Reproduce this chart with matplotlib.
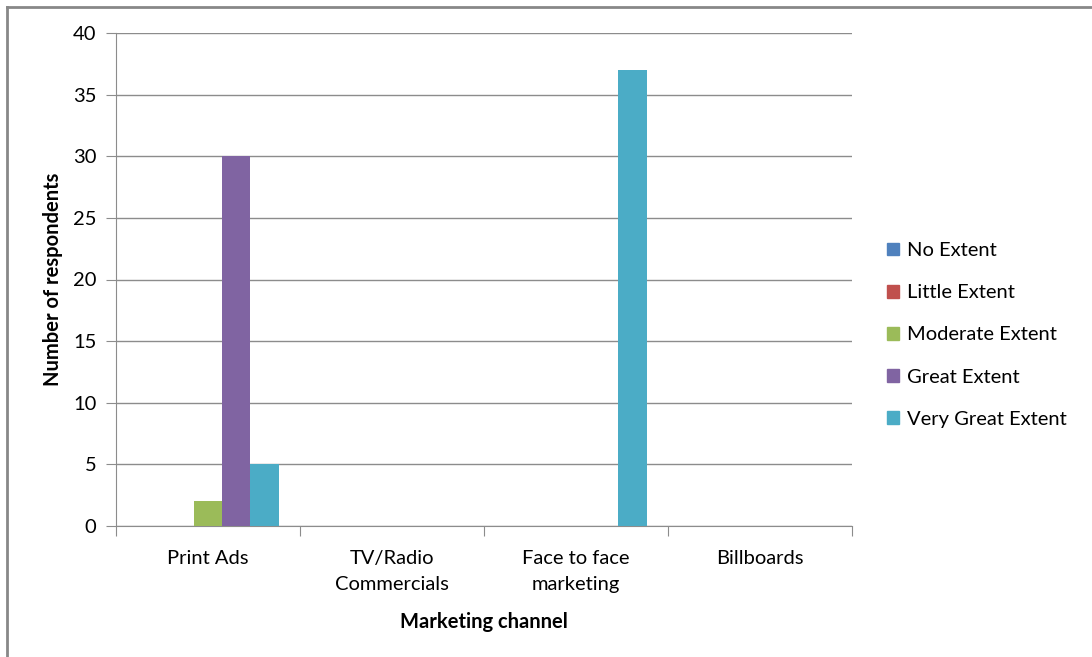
import numpy as np
import matplotlib.pyplot as plt
from matplotlib.lines import Line2D

plt.rcParams['font.family'] = ['Lato', 'DejaVu Sans']

# survey counts per marketing channel
channels = ["Print Ads", "TV/Radio\nCommercials", "Face to face\nmarketing", "Billboards"]
levels = ["No Extent", "Little Extent", "Moderate Extent", "Great Extent", "Very Great Extent"]
no_extent = [0, 0, 0, 0]
little_extent = [0, 0, 0, 0]
moderate_extent = [2, 0, 0, 0]
great_extent = [30, 0, 0, 0]
very_great_extent = [5, 0, 37, 0]
colors = ["#4F81BD", "#C0504D", "#9BBB59", "#8064A2", "#4BACC6"]

series = [no_extent, little_extent, moderate_extent, great_extent, very_great_extent]

fs = 14.5
fig = plt.figure(figsize=(10.92, 6.57), dpi=100)
ax = fig.add_axes([116/1092, 1-526/657, 736/1092, 493/657])

x = np.arange(len(channels))
w = 1/6.5
for i, (vals, lab, c) in enumerate(zip(series, levels, colors)):
    ax.bar(x + (i-2)*w, vals, width=w, color=c, label=lab, zorder=3)

ax.set_xlim(-0.5, 3.5)
ax.set_ylim(0, 40)
ax.set_yticks(np.arange(0, 41, 5))
ax.grid(axis='y', color='#8c8c8c', lw=1, zorder=0)

# category separators as tick marks
ax.set_xticks(np.arange(-0.5, 4, 1))
ax.set_xticklabels([])
ax.set_xticks(x, minor=True)
ax.set_xticklabels(channels, minor=True, fontsize=fs, linespacing=1.65)
ax.tick_params(axis='x', which='major', direction='out', length=7, color='#8c8c8c')
ax.tick_params(axis='x', which='minor', length=0, pad=17)
ax.tick_params(axis='y', direction='out', length=7, color='#8c8c8c', labelsize=fs, pad=7)

for s in ['top', 'right']:
    ax.spines[s].set_visible(False)
for s in ['left', 'bottom']:
    ax.spines[s].set_color('#8c8c8c')

ax.set_xlabel("Marketing channel", fontsize=fs, fontweight='bold', labelpad=14)
ax.set_ylabel("Number of respondents", fontsize=fs, fontweight='bold', labelpad=7)

handles = [plt.Rectangle((0, 0), 1, 1, color=c) for c in colors]
fig.legend(handles, levels, loc='center left', bbox_to_anchor=(869/1092, 1-335/657),
           frameon=False, fontsize=fs, handlelength=0.6, handleheight=0.6,
           handletextpad=0.4, labelspacing=1.25)

# outer chart frame
fig.add_artist(Line2D([7/1092, 7/1092], [0, 1-7/657], color='#888888', lw=2))
fig.add_artist(Line2D([7/1092, 1], [1-7/657, 1-7/657], color='#888888', lw=2))

fig.savefig("out.png", dpi=100)
